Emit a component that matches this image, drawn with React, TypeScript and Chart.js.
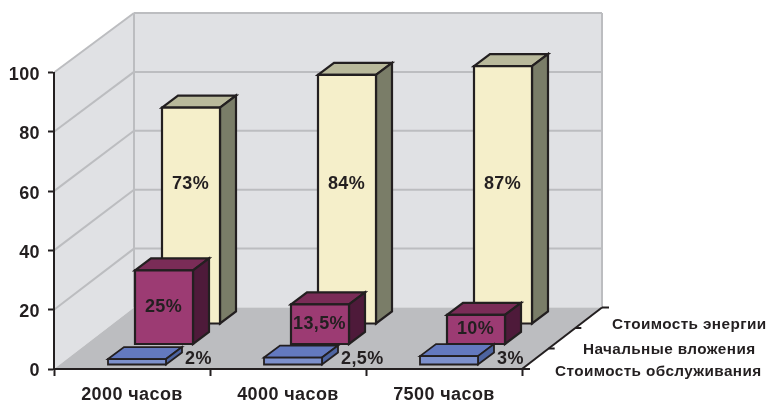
import React, { useEffect, useRef } from "react";
import { Chart, registerables } from "chart.js";

Chart.register(...registerables);

const hours = ["2000 часов", "4000 часов", "7500 часов"];
const serviceCost = [2, 2.5, 3];
const initialInvestment = [25, 13.5, 10];
const energyCost = [73, 84, 87];
const yTicks = [0, 20, 40, 60, 80, 100];
const depthNames = ["Стоимость обслуживания", "Начальные вложения", "Стоимость энергии"];

const FONT = '"Liberation Sans", Arial, sans-serif';
const INK = "#231f20";
const WALL = "#e0e1e4";
const WALL_LINE = "#bcbdc0";
const FLOOR = "#bcbdc0";

// Oblique projection of the depth axis.
const DEPTH_X = 80;
const DEPTH_Y = 61.5;
const ROW_GAP_X = 27;
const ROW_GAP_Y = 20.5;
const ROW_START_X = 5;
const ROW_START_Y = 4;
const BAR_DEPTH_X = 16;
const BAR_DEPTH_Y = 12;

const faces = [
  { front: "#7c90cc", top: "#6379bf", side: "#4d64a0" },
  { front: "#9c3b73", top: "#7a2c57", side: "#4e1a3a" },
  { front: "#f5efca", top: "#b9b99b", side: "#7a7d68" },
];

function polygon(ctx: CanvasRenderingContext2D, pts: number[][], fill?: string, stroke?: string, width = 2) {
  ctx.beginPath();
  pts.forEach(([x, y], i) => (i ? ctx.lineTo(x, y) : ctx.moveTo(x, y)));
  ctx.closePath();
  if (fill) {
    ctx.fillStyle = fill;
    ctx.fill();
  }
  if (stroke) {
    ctx.strokeStyle = stroke;
    ctx.lineWidth = width;
    ctx.lineJoin = "miter";
    ctx.stroke();
  }
}

function segment(ctx: CanvasRenderingContext2D, x1: number, y1: number, x2: number, y2: number, color: string, width = 2) {
  ctx.beginPath();
  ctx.moveTo(x1, y1);
  ctx.lineTo(x2, y2);
  ctx.strokeStyle = color;
  ctx.lineWidth = width;
  ctx.stroke();
}

const percentText = (v: number) => String(v).replace(".", ",") + "%";

const scene3d = {
  id: "scene3d",
  // Walls, floor and the depth axis sit behind the regular scales.
  beforeDraw(chart: any) {
    const { ctx, chartArea: a, scales } = chart;
    const y = scales.y;
    const x0 = a.left;
    const x1 = a.right;
    const y0 = y.getPixelForValue(0);
    const yTop = y.getPixelForValue(100);
    const backX0 = x0 + DEPTH_X;
    const backX1 = x1 + DEPTH_X;
    const backY = (v: number) => y.getPixelForValue(v) - DEPTH_Y + (v / 100) * 2;

    ctx.save();
    polygon(ctx, [[x0, y0], [backX0, backY(0)], [backX0, backY(100)], [x0, yTop]], WALL);
    polygon(ctx, [[backX0, backY(0)], [backX1, backY(0)], [backX1, backY(100)], [backX0, backY(100)]], WALL);
    polygon(ctx, [[x0, y0], [backX0, backY(0)], [backX1, backY(0)], [x1, y0]], FLOOR);

    yTicks.slice(1).forEach((v) => {
      segment(ctx, x0, y.getPixelForValue(v), backX0, backY(v), WALL_LINE);
      segment(ctx, backX0, backY(v), backX1, backY(v), WALL_LINE);
    });
    segment(ctx, backX0, backY(0), backX0, backY(100), WALL_LINE);
    segment(ctx, backX1, backY(0), backX1, backY(100), WALL_LINE);

    // Depth axis with its three row captions.
    segment(ctx, x1, y0, backX1, backY(0), INK);
    segment(ctx, x1, y0, x1 + 8, y0, INK);
    segment(ctx, backX1, backY(0), backX1 + 7, backY(0), INK);
    [1, 2].forEach((k) => {
      const tx = x1 + (DEPTH_X * k) / 3;
      const ty = y0 + ((backY(0) - y0) * k) / 3;
      segment(ctx, tx, ty, tx + 6, ty, INK);
    });
    ctx.letterSpacing = "0.4px";
    ctx.font = `bold 15.3px ${FONT}`;
    ctx.fillStyle = INK;
    ctx.textAlign = "left";
    ctx.textBaseline = "middle";
    const captionX = [555, 583, 612];
    const captionY = [372, 350, 325];
    depthNames.forEach((name, k) => ctx.fillText(name, captionX[k], captionY[k]));
    ctx.restore();
    // Tick labels inherit this spacing from the shared context.
    ctx.letterSpacing = "0.4px";
  },
  // Each bar element is redrawn as a prism pushed back to its depth row.
  beforeDatasetDraw(chart: any, args: any) {
    const { ctx, scales } = chart;
    const row = args.index;
    const shiftX = ROW_START_X + row * ROW_GAP_X;
    const shiftY = ROW_START_Y + row * ROW_GAP_Y;
    const c = faces[row];
    const lw = row === 0 ? 1.8 : 2.2;
    ctx.save();
    args.meta.data.forEach((bar: any, i: number) => {
      const l = bar.x - bar.width / 2 + shiftX;
      const r = bar.x + bar.width / 2 + shiftX;
      const t = bar.y - shiftY;
      const b = bar.base - shiftY;
      const dx = BAR_DEPTH_X;
      const dy = BAR_DEPTH_Y;
      polygon(ctx, [[l, t], [l + dx, t - dy], [r + dx, t - dy], [r, t]], c.top, INK, lw);
      polygon(ctx, [[r, t], [r + dx, t - dy], [r + dx, b - dy], [r, b]], c.side, INK, lw);
      polygon(ctx, [[l, t], [r, t], [r, b], [l, b]], c.front, INK, lw);

      const value = chart.data.datasets[row].data[i];
      ctx.font = `bold 18px ${FONT}`;
      ctx.fillStyle = INK;
      ctx.textBaseline = "middle";
      if (row === 0) {
        ctx.textAlign = "left";
        ctx.fillText(percentText(value), r + 19, scales.y.getPixelForValue(3.4));
      } else {
        ctx.textAlign = "center";
        const labelY = row === 2 ? scales.y.getPixelForValue(47.3) - shiftY : (t + b) / 2;
        ctx.fillText(percentText(value), (l + r) / 2 - 0.5, labelY);
      }
    });
    ctx.restore();
    return false;
  },
  // Value labels hang slightly below their tick marks.
  afterDraw(chart: any) {
    const { ctx, scales } = chart;
    const y = scales.y;
    ctx.save();
    ctx.font = `bold 18px ${FONT}`;
    ctx.fillStyle = INK;
    ctx.textAlign = "right";
    ctx.textBaseline = "middle";
    y.ticks.forEach((tick: any, i: number) => {
      ctx.fillText(String(tick.value), 40, y.getPixelForTick(i) + 2.5);
    });
    ctx.restore();
  },
};

export default function App() {
  const ref = useRef<HTMLCanvasElement>(null);

  useEffect(() => {
    const chart = new Chart(ref.current as HTMLCanvasElement, {
      type: "bar",
      data: {
        labels: hours,
        datasets: [
          { label: depthNames[0], data: serviceCost, backgroundColor: faces[0].front },
          { label: depthNames[1], data: initialInvestment, backgroundColor: faces[1].front },
          { label: depthNames[2], data: energyCost, backgroundColor: faces[2].front },
        ],
      },
      options: {
        responsive: false,
        animation: false,
        layout: { padding: { left: 0, right: 248, top: 72.5, bottom: 0 } },
        datasets: { bar: { grouped: false, barThickness: 58 } },
        plugins: { legend: { display: false }, tooltip: { enabled: false } },
        scales: {
          x: {
            offset: true,
            afterFit: (s: any) => {
              s.height = 31;
            },
            border: { color: INK, width: 2 },
            grid: { offset: true, drawOnChartArea: false, drawTicks: true, tickColor: INK, tickWidth: 2, tickLength: 7 },
            ticks: { color: INK, font: { family: FONT, size: 18, weight: "bold" }, padding: 8.5, maxRotation: 0 },
          },
          y: {
            min: 0,
            max: 100,
            afterFit: (s: any) => {
              s.width = 54;
            },
            afterBuildTicks: (s: any) => {
              s.ticks = yTicks.map((value) => ({ value }));
            },
            border: { color: INK, width: 2 },
            grid: { drawOnChartArea: false, drawTicks: true, tickColor: INK, tickWidth: 2, tickLength: 6 },
            ticks: { display: false },
          },
        },
      },
      plugins: [scene3d],
    } as any);
    return () => chart.destroy();
  }, []);

  return (
    <div style={{ position: "absolute", left: 0, top: 0, width: 770, height: 400, background: "#fff" }}>
      <canvas ref={ref} width={770} height={400} style={{ display: "block" }} />
    </div>
  );
}
